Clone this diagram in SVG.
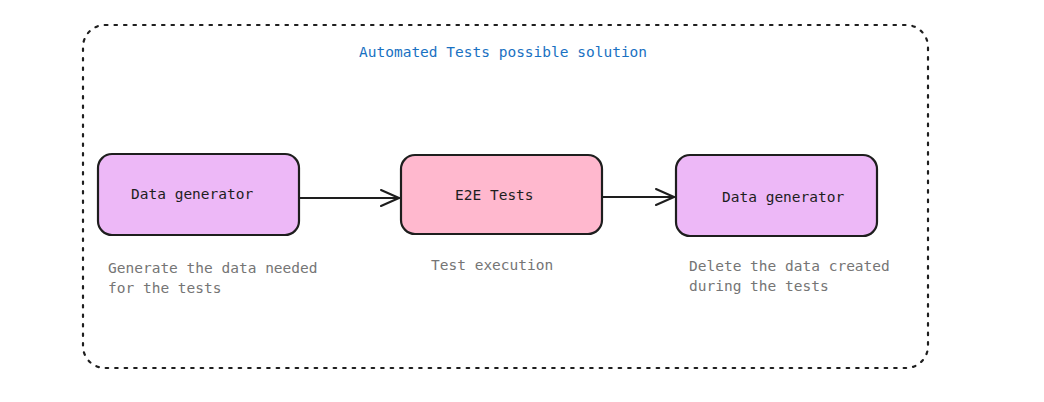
<svg xmlns="http://www.w3.org/2000/svg" width="1044" height="402" viewBox="0 0 1044 402">
<defs>
<style>
.box{stroke:#1e1e1e;stroke-width:2.2}
.purple{fill:#edb8f7}
.pink{fill:#ffb8ce}
.lbl{font-family:"DejaVu Sans Mono","Liberation Mono",monospace;font-size:14.5px;fill:#1e1e1e}
.note{font-family:"DejaVu Sans Mono","Liberation Mono",monospace;font-size:14.5px;fill:#757575}
.title{font-family:"DejaVu Sans Mono","Liberation Mono",monospace;font-size:14.5px;fill:#1971c2}
.conn{stroke:#1e1e1e;stroke-width:2;fill:none;stroke-linecap:round}
</style>
<marker id="arr" viewBox="0 0 20 20" refX="19" refY="10" markerWidth="20" markerHeight="20" markerUnits="userSpaceOnUse" orient="auto">
<path d="M1,2 L19,10 L1,18" fill="none" stroke="#1e1e1e" stroke-width="2" stroke-linecap="round" stroke-linejoin="round"/>
</marker>
</defs>
<rect width="1044" height="402" fill="#ffffff"/>
<g id="frame">
<rect x="83" y="25" width="845" height="343" rx="22" fill="none" stroke="#1e1e1e" stroke-width="2.2" stroke-dasharray="2.5 7" stroke-linecap="round"/>
<text class="title" x="359" y="57">Automated Tests possible solution</text>
</g>
<g id="node-generate">
<rect class="box purple" x="98" y="154" width="201" height="81" rx="14"/>
<text class="lbl" x="131" y="199">Data generator</text>
<text class="note" x="108" y="273">Generate the data needed</text>
<text class="note" x="108" y="293">for the tests</text>
</g>
<g id="node-e2e">
<rect class="box pink" x="401" y="155" width="201" height="79" rx="14"/>
<text class="lbl" x="455" y="200">E2E Tests</text>
<text class="note" x="431" y="270">Test execution</text>
</g>
<g id="node-delete">
<rect class="box purple" x="676" y="155" width="201" height="81" rx="14"/>
<text class="lbl" x="722" y="202">Data generator</text>
<text class="note" x="689" y="271">Delete the data created</text>
<text class="note" x="689" y="291">during the tests</text>
</g>
<g id="connectors">
<path class="conn" d="M300,198 L399,198" marker-end="url(#arr)"/>
<path class="conn" d="M603,197 L674,197" marker-end="url(#arr)"/>
</g>
</svg>
